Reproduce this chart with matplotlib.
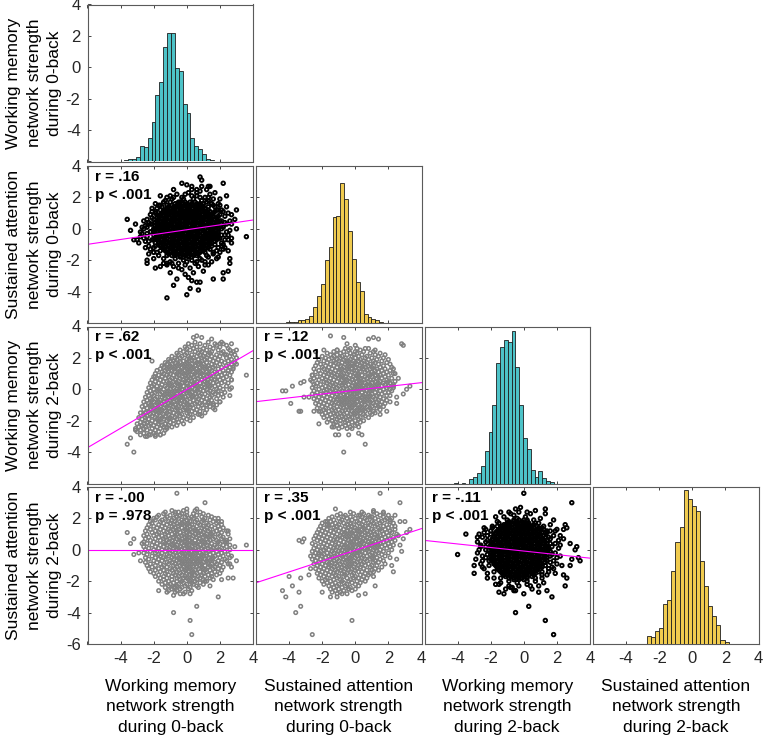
import matplotlib
matplotlib.use("Agg")
import matplotlib.pyplot as plt
import numpy as np

plt.rcParams["font.family"] = ["Liberation Sans", "DejaVu Sans"]
plt.rcParams["axes.unicode_minus"] = False

# ---------------------------------------------------------------- data
var_labels = [
    "Working memory\nnetwork strength\nduring 0-back",
    "Sustained attention\nnetwork strength\nduring 0-back",
    "Working memory\nnetwork strength\nduring 2-back",
    "Sustained attention\nnetwork strength\nduring 2-back",
]

# diagonal histograms: first bin edge, bin width, bar heights
hist_starts = [-3.77, -4.43, -4.22, -4.97]
hist_widths = [0.2345, 0.235, 0.232, 0.247]
hist1_counts = [4, 9, 8, 14, 46, 44, 71, 121, 202, 242, 348, 390, 390, 283, 274,
                173, 148, 71, 46, 38, 23, 8, 4, 1, 3]
hist2_counts = [1, 2, 3, 4, 9, 10, 11, 20, 47, 82, 117, 187, 226, 316, 321, 418,
                370, 275, 192, 122, 95, 26, 18, 12, 8, 4, 1]
hist3_counts = [2, 0, 2, 0, 15, 20, 31, 54, 97, 155, 237, 362, 409, 431, 425, 457,
                349, 237, 137, 103, 41, 20, 38, 16, 7, 6]
hist4_counts = [1, 0, 0, 0, 1, 1, 1, 0, 0, 23, 20, 38, 47, 121, 133, 221, 308, 353,
                463, 436, 415, 401, 251, 175, 113, 83, 58, 13, 5, 0, 1, 1]
hist_counts = [hist1_counts, hist2_counts, hist3_counts, hist4_counts]

# scatter clouds. Values are in tenths of a unit.
# rows: (y, [x, x, ...]); extra: loose (x, y) points around the cloud

# WM 0-back (x) vs SA 0-back (y)
pA_rows = [
    (17, [-4, -1, 2, 5]),
    (16, [-7, -5, -2, 0, 3, 6, 8]),
    (15, [-12, -9, -6, -4, -1, 1, 4, 7, 9]),
    (14, [-11, -8, -5, -3, 0, 2, 5, 8, 10, 13]),
    (13, [-12, -10, -7, -4, -2, 1, 3, 6, 9, 11]),
    (12, [-16, -13, -11, -8, -6, -3, 0, 2, 5, 7, 10, 13]),
    (11, [-14, -12, -9, -7, -4, -1, 1, 4, 6, 9, 12, 14, 17]),
    (10, [-15, -13, -10, -8, -5, -2, 0, 3, 5, 8, 11, 13, 16]),
    (9, [-18, -16, -14, -11, -9, -6, -3, -1, 2, 4, 7, 10, 12, 15]),
    (8, [-17, -14, -12, -9, -7, -4, -2, 1, 3, 6, 8, 11, 14, 16, 19]),
    (7, [-18, -15, -13, -10, -8, -5, -2, 0, 3, 5, 8, 10, 13, 15, 18]),
    (6, [-20, -17, -15, -12, -9, -7, -4, -1, 1, 4, 7, 9, 12, 14, 17]),
    (5, [-18, -16, -13, -11, -8, -6, -3, 0, 2, 5, 7, 10, 13, 15, 18, 20]),
    (4, [-19, -16, -14, -11, -9, -6, -4, -1, 1, 4, 6, 9, 11, 14, 16, 19]),
    (3, [-21, -18, -15, -13, -10, -7, -5, -2, 0, 3, 5, 8, 10, 13, 15, 18]),
    (2, [-19, -17, -14, -12, -9, -6, -4, -1, 2, 4, 7, 9, 12, 14, 17, 19, 22]),
    (1, [-18, -16, -13, -11, -8, -5, -3, 0, 3, 5, 8, 10, 13, 16, 18]),
    (0, [-20, -17, -15, -12, -10, -7, -4, -2, 1, 4, 6, 9, 11, 14, 16, 19, 21]),
    (-1, [-19, -16, -14, -11, -8, -6, -3, 0, 2, 5, 7, 10, 13, 15, 18]),
    (-2, [-22, -20, -18, -15, -13, -10, -7, -5, -2, 1, 3, 6, 8, 11, 14, 16, 19]),
    (-3, [-19, -16, -13, -11, -8, -6, -3, -1, 2, 4, 7, 10, 12, 15, 17]),
    (-4, [-20, -17, -15, -12, -9, -7, -4, -2, 1, 3, 6, 8, 11, 13, 16, 18, 21]),
    (-5, [-18, -16, -13, -10, -8, -5, -3, 0, 2, 5, 7, 10, 12, 15, 17]),
    (-6, [-19, -17, -14, -12, -9, -6, -4, -1, 1, 4, 6, 9, 11, 14, 16, 19]),
    (-7, [-20, -18, -15, -13, -10, -8, -5, -2, 0, 3, 5, 8, 10, 13, 15, 18]),
    (-8, [-17, -14, -12, -9, -7, -4, -1, 1, 4, 6, 9, 12, 14, 17]),
    (-9, [-19, -17, -15, -12, -10, -7, -5, -2, 0, 3, 5, 8, 10, 13, 15]),
    (-10, [-16, -14, -11, -9, -6, -3, -1, 2, 4, 7, 9, 12, 14, 17]),
    (-11, [-16, -13, -11, -8, -6, -3, 0, 2, 5, 7, 10, 12, 15]),
    (-12, [-15, -13, -10, -7, -5, -2, 0, 3, 5, 8, 11, 13]),
    (-13, [-14, -12, -9, -7, -4, -1, 1, 4, 6, 9, 11, 14]),
    (-14, [-13, -10, -8, -5, -3, 0, 2, 5, 8, 10]),
    (-15, [-12, -10, -7, -5, -2, 1, 3, 6, 8, 11]),
    (-16, [-11, -8, -6, -3, 0, 2, 5, 7]),
    (-17, [-9, -7, -4, -1, 1, 4, 6]),
    (-18, [-4, -2, 1, 3]),
]
pA_extra = [
    (-9, 19), (-3, 20), (4, 19), (9, 18), (12, 17), (-14, 17), (-6, 22), (1, 23),
    (6, 21), (11, 20), (15, 16), (-12, 20), (-16, 15), (3, 25), (8, 24), (14, 22),
    (17, 14), (19, 12), (20, 15), (16, 19), (-18, 13), (-19, 11),
    (-24, 6), (-25, 2), (-24, -3), (-25, -8), (-23, -11), (-22, 9), (-23, 4), (-26, 0),
    (-24, -5), (-22, -13), (-20, -15), (-21, 11), (-27, -3), (-26, 5),
    (23, 8), (24, 3), (24, -2), (23, -7), (22, -10), (21, 12), (25, 10), (24, 14),
    (26, 5), (25, -4), (22, -13), (20, -15), (26, -1), (23, -12),
    (-14, -19), (-10, -21), (-5, -22), (0, -21), (5, -22), (9, -20), (13, -18),
    (16, -16), (-17, -17), (-8, -24), (2, -25), (7, -24), (11, -23), (-12, -23),
    (-3, -26), (4, -28), (15, -21), (18, -19),
    (-17, 15), (-13, 18), (-8, 20), (-2, 19), (3, 21), (8, 20), (13, 18), (16, 15),
    (18, 12), (20, 9), (21, 5), (22, 1), (23, -4), (21, -9), (19, -12), (16, -15),
    (12, -17), (8, -19), (3, -20), (-2, -20), (-7, -19), (-12, -17), (-16, -14),
    (-19, -11), (-21, -7), (-22, -2), (-22, 3), (-21, 7), (-19, 10), (-15, 14),
    (-10, 17), (-5, 17), (10, 16), (18, -3), (20, -6), (-20, -1), (-24, 1), (-23, -8),
    (-20, -12), (-18, -15), (-9, -22), (-1, -23), (6, -21), (11, -21), (18, -14),
    (21, -11), (23, 4), (22, 11), (19, 16), (13, 20), (6, 23), (-1, 22), (-10, 21),
    (-19, 16), (-21, 13), (-26, -6), (-27, 1), (27, 3), (27, -6), (25, -14), (13, -23),
    (-5, -25), (-14, -22), (-20, -19), (9, 27), (-8, 25), (17, 23), (20, 19), (29, 6),
    (-29, -9), (1, -31), (10, -27), (-10, -28),
    (8, 33), (9, 31), (-3, 29), (0, 28), (3, 27), (6, 25), (13, 27), (14, 27),
    (22, 29), (12, 25), (-16, 21), (24, 21), (30, 12), (27, 9), (30, 0), (36, -5),
    (25, -7), (27, -9), (26, -19), (26, -22), (25, -27), (22, -28), (19, -18),
    (16, -32), (22, -32), (8, -34), (3, -33), (6, -34), (-1, -29), (7, -39), (2, -38),
    (0, -42), (-8, -36), (-6, -32), (-12, -44), (-19, -25), (-24, -20), (-24, -22),
    (-16, -24), (-12, -22), (-36, 6), (-34, -1), (-31, 3), (-32, -7), (-28, -5),
    (-28, -2), (-30, -7), (-25, -12), (-23, -16),
]

# WM 0-back (x) vs WM 2-back (y)
pB_rows = [
    (30, [5, 13, 21]), (29, [1, 8, 17]), (28, [3, 11, 18, 24]), (27, [-1, 6, 14, 20]),
    (26, [0, 4, 10, 16, 25]), (25, [-4, 2, 8, 12, 19, 26]), (24, [-2, 5, 9, 15, 22, 28]),
    (23, [-6, 0, 7, 11, 14, 21, 27]), (22, [-5, -1, 3, 8, 13, 18, 23, 29]),
    (21, [-9, -3, 1, 6, 10, 15, 20, 26]), (20, [-7, -4, 2, 4, 9, 12, 17, 24, 30]),
    (19, [-11, -6, 0, 3, 7, 11, 14, 19, 27]), (18, [-10, -8, -2, 1, 5, 9, 16, 21, 25]),
    (17, [-13, -7, -4, 0, 6, 8, 12, 18, 23, 29]), (16, [-12, -9, -5, -1, 3, 7, 10, 15, 20, 27]),
    (15, [-15, -10, -6, -2, 2, 5, 9, 13, 17, 24]),
    (14, [-14, -11, -7, -3, 1, 4, 8, 12, 16, 21, 26]),
    (13, [-16, -12, -8, -5, 0, 3, 6, 11, 14, 19, 28]),
    (12, [-18, -13, -9, -4, -1, 2, 7, 10, 15, 22, 25]),
    (11, [-15, -11, -7, -3, 1, 4, 8, 12, 17, 20, 27]),
    (10, [-19, -14, -10, -6, -2, 0, 5, 9, 13, 18, 23]),
    (9, [-17, -12, -8, -5, -1, 3, 6, 10, 14, 21, 26]),
    (8, [-20, -15, -11, -6, -3, 1, 4, 8, 12, 16, 19, 24]),
    (7, [-18, -13, -9, -4, 0, 2, 7, 11, 15, 22]),
    (6, [-21, -16, -10, -7, -2, 1, 5, 9, 13, 17, 20, 27]),
    (5, [-19, -14, -12, -8, -5, -1, 3, 6, 11, 14, 18, 23]),
    (4, [-22, -17, -11, -6, -3, 0, 4, 8, 12, 16, 21, 25]),
    (3, [-20, -15, -10, -7, -4, 2, 5, 10, 13, 19]),
    (2, [-21, -18, -13, -9, -5, -2, 1, 6, 9, 14, 17, 24]),
    (1, [-23, -16, -12, -8, -4, 0, 3, 7, 11, 15, 20]),
    (0, [-20, -17, -14, -10, -6, -3, 2, 5, 8, 12, 18, 22, 26]),
    (-1, [-22, -18, -11, -7, -5, -1, 1, 6, 10, 14, 19]),
    (-2, [-24, -19, -15, -12, -8, -4, 0, 3, 7, 13, 16, 23]),
    (-3, [-21, -16, -13, -9, -6, -2, 2, 5, 9, 11, 17, 21]),
    (-4, [-23, -20, -14, -10, -7, -3, 1, 4, 8, 15, 19]),
    (-5, [-25, -18, -15, -11, -8, -4, -1, 3, 6, 10, 14, 22]),
    (-6, [-22, -19, -13, -9, -5, -2, 2, 7, 12, 18]),
    (-7, [-24, -21, -16, -12, -10, -6, -3, 0, 4, 9, 15]),
    (-8, [-26, -20, -17, -14, -8, -5, -1, 2, 6, 11, 13, 20]),
    (-9, [-23, -18, -15, -11, -9, -4, 0, 5, 8, 16]),
    (-10, [-25, -22, -19, -13, -10, -7, -2, 1, 3, 9, 12, 18]),
    (-11, [-27, -21, -16, -12, -8, -5, -3, 2, 7, 14]),
    (-12, [-24, -20, -17, -14, -11, -6, -1, 4, 10, 16]),
    (-13, [-26, -22, -18, -15, -9, -7, -2, 0, 6, 12]),
    (-14, [-23, -19, -16, -13, -10, -4, 1, 3, 8]),
    (-15, [-28, -25, -20, -17, -12, -8, -5, 0, 5, 11]),
    (-16, [-26, -22, -18, -14, -11, -6, -3, 2, 7]),
    (-17, [-24, -21, -16, -13, -9, -4, 1, 9]),
    (-18, [-29, -25, -19, -15, -10, -7, -2, 4]),
    (-19, [-27, -23, -18, -14, -11, -6, 0]),
    (-20, [-25, -21, -17, -12, -8, -3, 2]),
    (-21, [-28, -24, -19, -16, -10, -5]),
    (-22, [-30, -26, -22, -17, -13, -8, -2]),
    (-23, [-27, -23, -20, -15, -11, -6]),
    (-24, [-29, -25, -18, -14, -9]),
    (-25, [-31, -26, -21, -16, -12]),
    (-26, [-28, -24, -19, -13]), (-27, [-30, -22, -17]), (-28, [-26, -20, -14]),
    (-29, [-28, -23, -16]), (-30, [-25, -19]),
]
pB_extra = [
    (4, 33), (6, 34), (9, 33), (15, 32), (20, 29), (22, 29), (27, 29), (30, 25),
    (36, 9), (30, 16), (27, 1), (26, -4), (13, -9), (16, -10), (17, -13), (20, -8),
    (8, -16), (-21, 18), (-19, 8), (-15, 8), (-36, -35), (-32, -40), (-34, -31),
    (-31, -26), (-29, -24), (-24, -30), (-22, -29), (-19, -29), (-16, -29),
    (-13, -22), (-12, -24), (24, 22), (25, 12), (27, 6), (28, 14),
]

# SA 0-back (x) vs WM 2-back (y)
pC_rows = [
    (26, [-6, 1, 8]), (25, [-11, -4, 3, 12]), (24, [-13, -7, 0, 5, 11]),
    (23, [-17, -9, -3, 1, 9, 15]), (22, [-15, -11, -5, -1, 4, 12, 18]),
    (21, [-20, -13, -8, -2, 2, 7, 14]), (20, [-18, -14, -9, -6, 0, 6, 10, 17]),
    (19, [-22, -16, -11, -7, -3, 3, 8, 13, 20]), (18, [-19, -13, -10, -4, -1, 2, 5, 11, 16]),
    (17, [-23, -17, -12, -8, -5, 0, 4, 7, 12, 19]),
    (16, [-21, -15, -10, -6, -2, 1, 6, 9, 14, 21]),
    (15, [-24, -18, -13, -9, -3, -1, 3, 8, 11, 17]),
    (14, [-20, -16, -11, -7, -4, 0, 4, 6, 10, 15, 22]),
    (13, [-25, -19, -14, -8, -5, -2, 2, 5, 9, 13, 18]),
    (12, [-22, -17, -12, -9, -6, -1, 1, 7, 12, 16, 21]),
    (11, [-24, -18, -15, -10, -4, -2, 3, 6, 10, 14, 19]),
    (10, [-21, -16, -13, -7, -5, 0, 2, 8, 11, 17, 23]),
    (9, [-26, -19, -14, -11, -8, -3, 1, 4, 9, 12, 15, 20]),
    (8, [-23, -17, -12, -9, -6, -1, 2, 6, 10, 14, 18]),
    (7, [-25, -20, -15, -10, -7, -4, 0, 3, 7, 13, 16, 22]),
    (6, [-22, -18, -13, -8, -5, -2, 2, 5, 9, 11, 19]),
    (5, [-26, -19, -16, -11, -6, -3, 1, 4, 8, 12, 15, 20, 24]),
    (4, [-23, -17, -14, -9, -7, -1, 3, 6, 10, 14, 17, 21]),
    (3, [-25, -21, -15, -12, -8, -4, 0, 2, 7, 9, 13, 18, 23]),
    (2, [-24, -18, -13, -10, -6, -2, 1, 5, 8, 12, 16, 20]),
    (1, [-26, -20, -16, -11, -7, -3, 0, 4, 6, 11, 14, 19, 23]),
    (0, [-22, -17, -14, -9, -5, -1, 3, 5, 10, 13, 17, 21]),
    (-1, [-25, -19, -15, -12, -8, -4, -2, 2, 7, 9, 15, 22]),
    (-2, [-23, -18, -13, -10, -6, -3, 1, 4, 8, 12, 18, 20]),
    (-3, [-26, -21, -16, -11, -7, -1, 0, 6, 10, 14, 16]),
    (-4, [-24, -19, -14, -9, -5, -2, 3, 5, 9, 13, 19, 21]),
    (-5, [-22, -17, -12, -10, -6, -3, 1, 4, 8, 11, 15]),
    (-6, [-25, -20, -15, -11, -7, -4, 0, 2, 7, 12, 17]),
    (-7, [-23, -18, -13, -8, -5, -1, 3, 6, 10, 14, 19]),
    (-8, [-21, -16, -12, -9, -6, -2, 1, 5, 9, 13, 16]),
    (-9, [-24, -19, -14, -10, -7, -3, 0, 4, 8, 11, 18]),
    (-10, [-22, -17, -13, -8, -4, -1, 2, 6, 12, 15]),
    (-11, [-20, -15, -11, -9, -5, -2, 3, 7, 10, 14]),
    (-12, [-23, -18, -13, -7, -3, 0, 4, 9, 13]),
    (-13, [-19, -14, -10, -6, -4, 1, 5, 8, 15]),
    (-14, [-21, -16, -12, -8, -2, 2, 6, 11]),
    (-15, [-18, -13, -9, -5, -1, 3, 9, 12]),
    (-16, [-20, -15, -11, -7, -3, 0, 5, 10]),
    (-17, [-17, -12, -8, -4, 1, 6]),
    (-18, [-19, -14, -10, -6, -2, 3, 8]),
    (-19, [-16, -11, -7, -3, 2]), (-20, [-14, -9, -5, 0, 5]),
    (-21, [-17, -12, -6, -2, 3]), (-22, [-13, -9, -4, 1]), (-23, [-11, -6, 0]),
    (-24, [-14, -8, -3, 2]), (-25, [-10, -5]),
]
pC_extra = [
    (-15, 34), (-7, 33), (8, 32), (11, 33), (14, 32), (28, 29), (29, 28), (-5, 29),
    (0, 28), (-3, 26), (6, 26), (-24, 24), (-19, 25), (-11, 25), (-44, -1), (-42, -1),
    (-38, 2), (-39, -9), (-34, -14), (-33, -14), (-31, -5), (-33, 4), (-31, 5),
    (-27, 6), (-26, 9), (-28, -5), (-25, -14), (-22, -14), (-22, -22), (-14, -20),
    (-13, -24), (-12, -29), (-10, -29), (-7, -40), (-4, -29), (2, -28), (4, -29),
    (6, -35), (-2, -25), (23, 13), (26, 7), (31, 0), (33, 2), (29, -3), (25, -5),
    (21, -8), (17, -11), (15, -16), (19, -14), (23, 2), (25, -9), (24, 10),
]

# WM 0-back (x) vs SA 2-back (y)
pD_rows = [
    (25, [-9, -2, 5]), (24, [-13, -5, 0, 8]), (23, [-14, -7, -3, 4, 10]),
    (22, [-17, -10, -4, 0, 6, 13]), (21, [-18, -12, -6, -1, 3, 9, 15]),
    (20, [-20, -13, -8, -5, 1, 4, 11, 17]), (19, [-19, -15, -9, -3, 0, 6, 10, 14]),
    (18, [-22, -16, -11, -7, -2, 2, 5, 9, 16, 19]), (17, [-21, -14, -10, -6, -3, 1, 7, 12, 18]),
    (16, [-23, -17, -12, -8, -4, 0, 3, 8, 13, 21]), (15, [-20, -15, -9, -5, -1, 2, 6, 10, 15, 19]),
    (14, [-24, -18, -13, -7, -3, 0, 4, 9, 12, 17, 22]),
    (13, [-22, -16, -11, -8, -5, -1, 2, 5, 11, 14, 20]),
    (12, [-25, -19, -14, -10, -6, -2, 1, 6, 8, 13, 18, 24]),
    (11, [-21, -17, -12, -7, -4, 0, 3, 7, 10, 16, 21]),
    (10, [-24, -18, -13, -9, -6, -2, 2, 5, 9, 12, 15, 19, 25]),
    (9, [-26, -20, -15, -11, -7, -3, 0, 4, 7, 11, 14, 20]),
    (8, [-23, -17, -13, -8, -5, -1, 1, 6, 10, 13, 17, 22]),
    (7, [-25, -19, -14, -10, -6, -3, 0, 3, 8, 12, 16, 21, 26]),
    (6, [-22, -16, -12, -9, -4, -1, 2, 5, 9, 14, 18, 24]),
    (5, [-26, -20, -14, -11, -7, -5, -1, 3, 7, 10, 13, 19, 23]),
    (4, [-24, -18, -13, -8, -3, 0, 4, 6, 11, 15, 20]),
    (3, [-21, -16, -12, -9, -6, -2, 1, 5, 8, 12, 17, 22, 26]),
    (2, [-26, -19, -14, -10, -7, -4, 0, 3, 7, 10, 14, 18, 24]),
    (1, [-23, -17, -12, -8, -5, -1, 2, 5, 9, 13, 16, 21]),
    (0, [-25, -20, -15, -11, -6, -3, 1, 4, 7, 11, 15, 20, 26]),
    (-1, [-22, -18, -13, -9, -5, -2, 0, 3, 6, 10, 13, 18, 23]),
    (-2, [-26, -19, -15, -10, -7, -3, 1, 5, 8, 12, 16, 21]),
    (-3, [-24, -17, -12, -8, -4, -1, 2, 4, 9, 14, 19, 25]),
    (-4, [-21, -16, -11, -6, -2, 0, 3, 7, 10, 12, 17, 22]),
    (-5, [-25, -19, -14, -9, -5, -1, 2, 6, 9, 13, 16, 20, 26]),
    (-6, [-23, -17, -13, -8, -4, 0, 3, 5, 8, 11, 15, 23]),
    (-7, [-20, -15, -10, -6, -3, 1, 4, 7, 12, 14, 19, 24]),
    (-8, [-25, -18, -12, -9, -5, -2, 2, 6, 10, 13, 17, 21]),
    (-9, [-22, -16, -11, -7, -3, -1, 3, 5, 9, 15, 18, 25]),
    (-10, [-24, -19, -14, -8, -4, 0, 4, 8, 11, 14, 20]),
    (-11, [-21, -15, -12, -6, -2, 1, 6, 9, 13, 17, 22]),
    (-12, [-23, -17, -10, -7, -3, 0, 2, 7, 10, 16, 19]),
    (-13, [-19, -14, -9, -5, -1, 3, 5, 11, 14, 21]),
    (-14, [-22, -16, -12, -6, -2, 1, 4, 8, 12, 17]),
    (-15, [-20, -13, -8, -4, 0, 3, 6, 10, 15, 20]),
    (-16, [-17, -11, -7, -3, 2, 5, 9, 13, 18]),
    (-17, [-19, -14, -9, -5, -1, 3, 7, 11, 15]),
    (-18, [-16, -12, -6, -2, 0, 4, 8, 14]),
    (-19, [-14, -9, -4, 1, 6, 10, 16]),
    (-20, [-17, -11, -6, -3, 2, 5, 12]),
    (-21, [-13, -8, -2, 3, 8]), (-22, [-15, -10, -5, 0, 4, 10]),
    (-23, [-11, -6, -1, 6]), (-24, [-13, -8, -3, 2, 7]), (-25, [-9, -4, 1]),
    (-26, [-11, -6, 3]), (-27, [-7, -1]), (-28, [-4, 2]),
]
pD_extra = [
    (-6, 36), (11, 30), (-7, 24), (0, 26), (6, 26), (19, 20), (21, 18), (-36, 11),
    (-34, 4), (-32, 7), (-32, -3), (-28, -7), (-27, 4), (-29, -2), (-17, -26),
    (-12, -27), (-8, -29), (-7, -24), (-2, -28), (-8, -40), (2, -45), (6, -36),
    (3, -54), (19, -30), (14, -23), (11, -20), (36, 3), (30, -7), (26, -9), (27, -11),
    (28, -18), (25, -18), (21, -19), (25, 12), (24, 5), (29, 2), (27, -4),
]

# SA 0-back (x) vs SA 2-back (y)
pE_rows = [
    (24, [-3, 4, 11, 17]), (23, [-9, -1, 5, 13]), (22, [-11, -6, 2, 8, 15, 20]),
    (21, [-14, -7, -3, 4, 9, 17]), (20, [-16, -10, -5, 0, 6, 12, 19, 22]),
    (19, [-13, -8, -2, 3, 7, 14, 18]), (18, [-18, -15, -9, -4, 1, 5, 10, 16, 21]),
    (17, [-20, -12, -7, -3, 2, 8, 11, 15, 23]), (16, [-17, -14, -10, -5, -1, 4, 9, 13, 19]),
    (15, [-21, -16, -11, -6, -2, 3, 6, 12, 17, 22]), (14, [-19, -13, -9, -4, 0, 5, 8, 14, 20]),
    (13, [-22, -17, -12, -7, -3, 1, 4, 10, 15, 18, 24]),
    (12, [-20, -15, -10, -5, -1, 2, 7, 11, 16, 21]),
    (11, [-23, -18, -13, -8, -6, -2, 3, 6, 9, 13, 19, 22]),
    (10, [-21, -16, -11, -7, -3, 0, 4, 8, 12, 17, 25]),
    (9, [-24, -19, -14, -9, -4, -1, 2, 6, 10, 15, 20]),
    (8, [-22, -17, -12, -8, -5, 1, 3, 7, 11, 14, 18, 23]),
    (7, [-25, -20, -15, -11, -6, -2, 0, 5, 9, 13, 16, 21]),
    (6, [-23, -18, -13, -9, -4, -1, 3, 6, 10, 14, 19, 24]),
    (5, [-21, -16, -12, -7, -3, 1, 4, 8, 12, 17, 22]),
    (4, [-26, -19, -14, -10, -5, -2, 2, 5, 9, 11, 15, 20]),
    (3, [-24, -17, -12, -8, -6, -1, 3, 7, 10, 14, 18, 23]),
    (2, [-22, -20, -15, -11, -7, -3, 0, 4, 8, 13, 16, 21]),
    (1, [-25, -18, -13, -9, -4, -2, 2, 6, 9, 12, 19]),
    (0, [-23, -19, -16, -12, -8, -5, -1, 3, 7, 11, 15, 22]),
    (-1, [-26, -21, -14, -10, -6, -3, 1, 4, 8, 13, 17]),
    (-2, [-24, -17, -13, -9, -5, 0, 2, 6, 10, 14, 20]),
    (-3, [-22, -19, -15, -11, -7, -4, -1, 3, 9, 12, 16]),
    (-4, [-25, -20, -16, -12, -8, -2, 1, 5, 7, 11, 18]),
    (-5, [-23, -18, -14, -9, -6, -3, 0, 4, 10, 13, 21]),
    (-6, [-26, -21, -15, -11, -7, -4, 2, 6, 9, 15]),
    (-7, [-24, -19, -13, -10, -5, -1, 3, 7, 12, 17]),
    (-8, [-22, -17, -14, -8, -6, -2, 1, 5, 11, 14]),
    (-9, [-25, -20, -16, -12, -9, -3, 0, 4, 8, 18]),
    (-10, [-23, -18, -15, -11, -7, -4, 2, 6, 10, 13]),
    (-11, [-21, -16, -13, -8, -5, -1, 3, 9, 16]),
    (-12, [-24, -19, -14, -10, -6, -2, 1, 5, 12]),
    (-13, [-22, -17, -12, -9, -4, 0, 7, 10, 14]),
    (-14, [-20, -15, -11, -7, -3, 2, 4, 11]),
    (-15, [-23, -18, -13, -8, -5, -1, 6, 9]),
    (-16, [-21, -16, -12, -6, -2, 3, 8]),
    (-17, [-19, -14, -10, -7, 0, 5, 11]),
    (-18, [-22, -17, -11, -5, -1, 2, 7]),
    (-19, [-18, -13, -9, -3, 4]), (-20, [-20, -15, -8, -4, 1, 6]),
    (-21, [-17, -12, -7, -2, 3]), (-22, [-19, -14, -10, -5, 0]),
    (-23, [-16, -11, -6, 2]), (-24, [-13, -8, -3]), (-25, [-15, -10, -4, 0]),
    (-26, [-12, -7, -2]), (-27, [-14, -9]), (-28, [-11, -5]),
]
pE_extra = [
    (15, 36), (27, 30), (-12, 26), (3, 22), (11, 25), (10, 21), (17, 23), (21, 19),
    (24, 22), (27, 18), (30, 18), (-17, 18), (-16, 16), (-34, 6), (-31, 7), (-32, 5),
    (-44, -26), (-42, -30), (-38, -23), (-40, -17), (-33, -18), (-34, -27), (-36, -40),
    (-33, -36), (-26, -54), (-28, -16), (-27, -12), (-22, -2), (-27, -4), (-2, -45),
    (-20, -27), (-15, -30), (-11, -30), (-8, -28), (-4, -25), (2, -29), (6, -28),
    (12, -23), (33, 13), (31, 11), (29, 7), (27, 3), (28, -1), (25, -6), (23, -14),
    (22, -10), (26, 9), (24, 15),
]

# WM 2-back (x) vs SA 2-back (y)
pF_rows = [
    (19, [-6, -3, 0]),
    (18, [-9, -6, -4, -1, 2]),
    (17, [-10, -8, -5, -2, 0, 3]),
    (16, [-12, -10, -7, -4, -2, 1, 3, 6]),
    (15, [-16, -13, -11, -8, -5, -3, 0, 2, 5, 8]),
    (14, [-14, -12, -9, -7, -4, -1, 1, 4, 6, 9]),
    (13, [-15, -13, -10, -8, -5, -2, 0, 3, 5, 8, 10, 12]),
    (12, [-16, -13, -11, -8, -6, -3, -1, 2, 4, 7, 9]),
    (11, [-17, -14, -12, -9, -7, -4, -1, 1, 4, 6, 9, 11, 13]),
    (10, [-20, -17, -15, -12, -10, -7, -5, -2, 0, 3, 5, 8, 10]),
    (9, [-18, -16, -13, -11, -8, -6, -3, 0, 2, 5, 7, 10, 12]),
    (8, [-18, -16, -13, -10, -8, -5, -3, 0, 2, 5, 8, 10, 13, 15]),
    (7, [-19, -17, -14, -12, -9, -7, -4, -2, 1, 3, 6, 9, 11]),
    (6, [-22, -19, -16, -14, -11, -9, -6, -3, -1, 2, 4, 7, 9, 12, 14]),
    (5, [-20, -17, -15, -12, -10, -7, -5, -2, 0, 3, 5, 8, 10, 13]),
    (4, [-19, -17, -14, -12, -9, -6, -4, -1, 1, 4, 6, 9, 12, 14, 16]),
    (3, [-20, -18, -15, -13, -10, -8, -5, -3, 0, 3, 5, 8, 10, 13]),
    (2, [-23, -20, -17, -15, -12, -10, -7, -4, -2, 1, 3, 6, 8, 11, 14]),
    (1, [-20, -18, -15, -13, -10, -8, -5, -2, 0, 3, 5, 8, 10, 13, 15]),
    (0, [-21, -18, -16, -13, -11, -8, -6, -3, -1, 2, 4, 7, 10, 12, 15]),
    (-1, [-19, -17, -14, -12, -9, -7, -4, -1, 1, 4, 6, 9, 11, 14, 16]),
    (-2, [-20, -18, -15, -13, -10, -8, -5, -3, 0, 3, 5, 8, 10, 13]),
    (-3, [-22, -19, -16, -14, -11, -9, -6, -4, -1, 1, 4, 7, 9, 12, 14]),
    (-4, [-20, -18, -15, -13, -10, -7, -5, -2, 0, 3, 5, 8, 11, 13, 16]),
    (-5, [-19, -17, -14, -12, -9, -6, -4, -1, 1, 4, 6, 9, 12, 14]),
    (-6, [-20, -18, -15, -13, -10, -8, -5, -3, 0, 2, 5, 7, 10, 13]),
    (-7, [-21, -19, -16, -14, -11, -9, -6, -4, -1, 1, 4, 6, 9, 11, 14]),
    (-8, [-18, -16, -13, -10, -8, -5, -3, 0, 2, 5, 8, 10, 13]),
    (-9, [-18, -15, -13, -10, -8, -5, -2, 0, 3, 5, 8, 10]),
    (-10, [-17, -15, -12, -10, -7, -4, -2, 1, 3, 6, 8, 11, 13]),
    (-11, [-16, -14, -11, -9, -6, -4, -1, 1, 4, 6, 9, 11]),
    (-12, [-16, -13, -11, -8, -5, -3, 0, 2, 5, 7, 10]),
    (-13, [-15, -13, -10, -8, -5, -2, 0, 3, 5, 8]),
    (-14, [-14, -12, -9, -6, -4, -1, 1, 4, 6, 9, 11]),
    (-15, [-13, -11, -8, -5, -3, 0, 2, 5, 7]),
    (-16, [-12, -10, -7, -5, -2, 1, 3, 6]),
    (-17, [-11, -8, -5, -3, 0, 2, 5]),
    (-18, [-9, -6, -3, -1, 2]),
    (-19, [-6, -3, 0]),
]
pF_extra = [
    (-12, 21), (-6, 22), (1, 21), (6, 19), (9, 17), (-16, 18), (-19, 15), (12, 15),
    (14, 12), (-3, 24), (4, 23), (-9, 24),
    (-25, 8), (-26, 3), (-25, -4), (-26, -9), (-24, -12), (-22, -15), (-24, 11),
    (-27, 0), (-28, 5), (-23, 13),
    (18, 9), (19, 4), (19, -2), (18, -7), (17, -11), (15, -14), (16, 12), (21, 6),
    (22, -4), (20, -9), (21, 1),
    (-18, -18), (-14, -21), (-9, -23), (-3, -23), (2, -22), (7, -20), (11, -18),
    (14, -16), (-11, -25), (5, -25), (-6, -26), (9, -23),
    (-19, 14), (-15, 17), (-10, 19), (-4, 20), (2, 19), (7, 17), (11, 14), (14, 11),
    (16, 7), (17, 2), (17, -3), (16, -8), (15, -12), (11, -16), (7, -18), (2, -20),
    (-4, -21), (-9, -20), (-14, -18), (-18, -14), (-21, -10), (-23, -5), (-23, 0),
    (-23, 5), (-22, 9), (-20, 12), (-25, -7), (-26, 2), (-24, 14), (-17, 21), (-8, 23),
    (2, 24), (10, 20), (16, 16), (19, 12), (20, -5), (18, -12), (12, -21), (4, -23),
    (-7, -24), (-17, -22), (-22, -18), (-28, -2), (22, 3), (23, -10), (-12, -28),
    (0, -28), (9, -27), (-2, 27), (19, -15), (-27, 10), (24, 7),
    (0, 36), (29, 30), (-14, 24), (-5, 26), (7, 25), (13, 26), (13, 23), (18, 19),
    (25, 16), (26, 14), (24, 13), (-35, 10), (-40, -3), (-28, 8), (-29, -6),
    (-30, -10), (-30, -15), (-25, -11), (-15, -22), (-15, -27), (-8, -24), (-5, -26),
    (3, -36), (-5, -40), (13, -45), (18, -54), (17, -30), (14, -26), (25, -23),
    (26, -18), (24, -16), (28, -10), (29, -6), (31, 0), (32, 2), (33, -5), (34, -7),
    (28, 4), (22, 9), (20, 13),
]

# lower-triangle cells (row, col) and their clouds
scatter_cells = [(1, 0), (2, 0), (2, 1), (3, 0), (3, 1), (3, 2)]
scatter_rows = [pA_rows, pB_rows, pC_rows, pD_rows, pE_rows, pF_rows]
scatter_extra = [pA_extra, pB_extra, pC_extra, pD_extra, pE_extra, pF_extra]
fit_slopes = [0.155, 0.618, 0.121, 0.0, 0.345, -0.113]
fit_intercepts = [-0.06, -0.01, -0.06, 0.0, -0.03, -0.08]
r_labels = ["r = .16", "r = .62", "r = .12", "r = -.00", "r = .35", "r = -.11"]
p_labels = ["p < .001", "p < .001", "p < .001", "p = .978", "p < .001", "p < .001"]

# ---------------------------------------------------------------- styling
W, H = 763, 739
col_left = [87.5, 256, 424.5, 593]
row_top = [4.5, 166, 326.5, 487]
pw, ph = 165.5, 157
same_task = {(1, 0), (3, 2)}
hist_colors = ["#4dc3c8", "#f0cb4f", "#4dc3c8", "#f0cb4f"]
hist_fill = [0.82, 0.89, 0.97, 0.98]
ticks = [-6, -4, -2, 0, 2, 4]

fig = plt.figure(figsize=(W / 100, H / 100), dpi=100)


def make_ax(r, c):
    ax = fig.add_axes([col_left[c] / W, 1 - (row_top[r] + ph) / H, pw / W, ph / H])
    ax.set_xlim(-6, 4)
    ax.set_ylim(-6, 4)
    ax.set_xticks(ticks)
    ax.set_yticks(ticks)
    ax.tick_params(direction="in", length=2.5, width=0.6, top=True, right=True,
                   labelsize=12, pad=5, colors="#262626")
    for s in ax.spines.values():
        s.set_color("#5a5a5a")
        s.set_linewidth(0.8)
    if c == 0:
        ylab = [str(t) for t in ticks]
        if r < 3:
            ylab[0] = ""
        ax.set_yticklabels(ylab)
    else:
        ax.tick_params(labelleft=False)
    if r == 3:
        ax.set_xticklabels([""] + [str(t) for t in ticks[1:]])
    else:
        ax.tick_params(labelbottom=False)
    return ax


def unpack(rows, extra):
    xs, ys = [], []
    for y, xlist in rows:
        for x in xlist:
            xs.append(x / 10)
            ys.append(y / 10)
    for x, y in extra:
        xs.append(x / 10)
        ys.append(y / 10)
    return np.array(xs), np.array(ys)


# diagonal: histograms
for i in range(4):
    ax = make_ax(i, i)
    axh = ax.twinx()
    counts = np.array(hist_counts[i])
    lefts = hist_starts[i] + hist_widths[i] * np.arange(len(counts))
    axh.bar(lefts, counts, width=hist_widths[i], align="edge", color=hist_colors[i],
            edgecolor="#1e1e1e", linewidth=0.6)
    axh.set_ylim(0, counts.max() / hist_fill[i])
    axh.set_yticks([])
    for s in axh.spines.values():
        s.set_visible(False)

# lower triangle: scatters
line_x = np.array([-6, 4])
for k, (r, c) in enumerate(scatter_cells):
    ax = make_ax(r, c)
    xs, ys = unpack(scatter_rows[k], scatter_extra[k])
    if (r, c) in same_task:
        ax.scatter(xs, ys, s=6.5, facecolors="none", edgecolors="black", linewidths=1.35)
    else:
        ax.scatter(xs, ys, s=6.5, facecolors="none", edgecolors="#808080", linewidths=1.1)
    ax.plot(line_x, fit_intercepts[k] + fit_slopes[k] * line_x, color="#ff00ff", lw=0.8)
    ax.text(0.046, 0.906, r_labels[k], transform=ax.transAxes, fontsize=11,
            fontweight="bold", va="baseline")
    ax.text(0.046, 0.79, p_labels[k], transform=ax.transAxes, fontsize=11,
            fontweight="bold", va="baseline")

# variable names
for i, lab in enumerate(var_labels):
    yc = 1 - (row_top[i] + ph / 2) / H
    fig.text(34 / W, yc, lab, rotation=90, ha="center", va="center", fontsize=12.5,
             linespacing=1.45)
    xc = (col_left[i] + pw / 2) / W
    fig.text(xc, 1 - 707 / H, lab, ha="center", va="center", fontsize=12.5,
             linespacing=1.45)

fig.savefig("out.png", dpi=100)
